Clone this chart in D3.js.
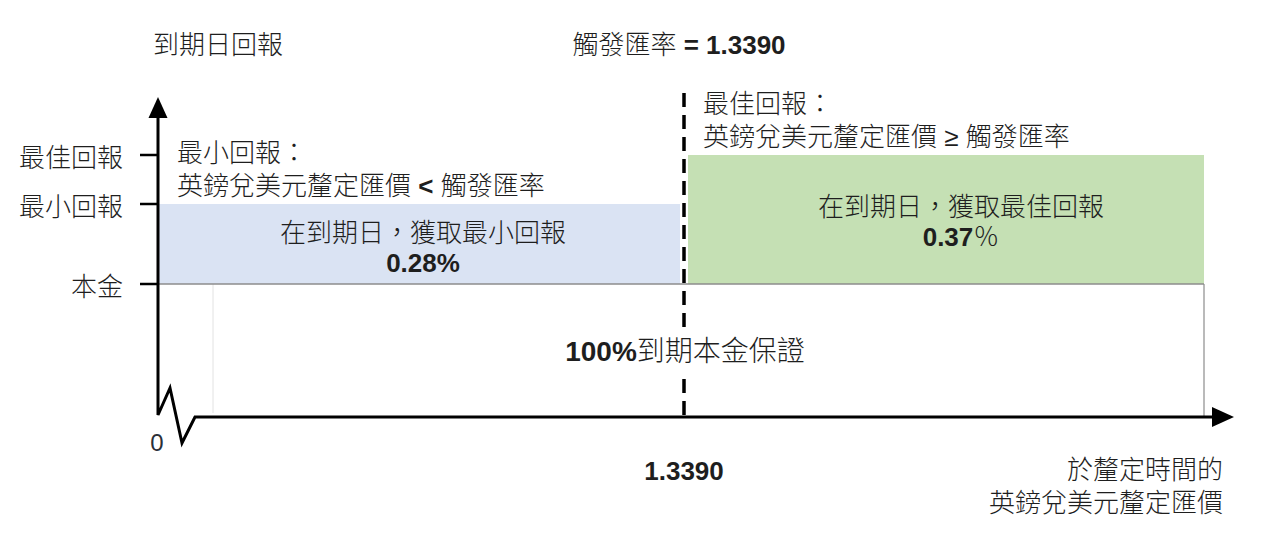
<!DOCTYPE html>
<html>
<head>
<meta charset="utf-8">
<script src="https://cdn.jsdelivr.net/npm/d3@7/dist/d3.min.js"></script>
<style>
  html, body { margin: 0; padding: 0; background: #fff; }
  svg { display: block; }
  text { font-family: "Liberation Sans", "Noto Sans CJK TC", sans-serif; fill: #1e1e1e; font-weight: 300; }
</style>
</head>
<body>
<svg id="chart" width="1280" height="557"></svg>
<script>
// ---------- data ----------
const triggerRate = 1.3390;
const rateDomain = [1.2390, 1.3390, 1.4390];           // conceptual FX range (left edge, trigger, right edge)
const levelValues = [0, 100, 100.28, 100.37];           // 0, principal, min return, best return (% of principal)
const yTickLabels = ["本金", "最小回報", "最佳回報"];
const yTickValues = [100, 100.28, 100.37];
const regions = [
  { key: "min",  from: 1.2390, to: 1.3390, value: 100.28, title: "最小回報：", cond: ["英鎊兌美元釐定匯價 ", "<", " 觸發匯率"], label: "在到期日，獲取最小回報", ret: "0.28", pct: "%" },
  { key: "best", from: 1.3390, to: 1.4390, value: 100.37, title: "最佳回報：", cond: ["英鎊兌美元釐定匯價 ", "≥", " 觸發匯率"], label: "在到期日，獲取最佳回報", ret: "0.37", pct: "％" }
];
const principalLabel = ["100%", "到期本金保證"];
const yAxisTitle = "到期日回報";
const xAxisTitle = ["於釐定時間的", "英鎊兌美元釐定匯價"];
const triggerTitle = ["觸發匯率", " = 1.3390"];
const zeroLabel = "0";

// ---------- layout ----------
const svg = d3.select("#chart");
const x = d3.scaleLinear().domain(rateDomain).range([158, 684, 1204]);
const y = d3.scaleLinear().domain(levelValues).range([417, 284, 204, 155]);
const fillColor = { min: "#dae3f3", best: "#c5e0b4" };
const gap = 4;
const FS = 26;

// principal box (white with gray top/right border)
svg.append("rect")
  .attr("x", x(rateDomain[0])).attr("y", y(100))
  .attr("width", x(rateDomain[2]) - x(rateDomain[0]))
  .attr("height", y(0) - y(100))
  .attr("fill", "#fff");
svg.append("line")
  .attr("x1", x(rateDomain[0]) + 55).attr("x2", x(rateDomain[0]) + 55)
  .attr("y1", y(100)).attr("y2", y(0) - 4)
  .attr("stroke", "#e2e2e2").attr("stroke-width", 1);

// return regions
svg.selectAll("rect.region").data(regions).join("rect")
  .attr("class", "region")
  .attr("x", d => d.key === "min" ? x(d.from) : x(d.from) + gap)
  .attr("width", d => d.key === "min" ? x(d.to) - gap - x(d.from) : x(d.to) - x(d.from) - gap)
  .attr("y", d => y(d.value))
  .attr("height", d => y(100) - y(d.value))
  .attr("fill", d => fillColor[d.key]);

// principal line & right border
svg.append("line")
  .attr("x1", x(rateDomain[0])).attr("x2", x(rateDomain[2]))
  .attr("y1", y(100)).attr("y2", y(100))
  .attr("stroke", "#8c8c8c").attr("stroke-width", 1.5);
svg.append("line")
  .attr("x1", x(rateDomain[2])).attr("x2", x(rateDomain[2]))
  .attr("y1", y(100)).attr("y2", y(0))
  .attr("stroke", "#8c8c8c").attr("stroke-width", 1.2);

// trigger dashed line
svg.append("line")
  .attr("x1", x(triggerRate)).attr("x2", x(triggerRate))
  .attr("y1", 93).attr("y2", y(0))
  .attr("stroke", "#000").attr("stroke-width", 3.5)
  .attr("stroke-dasharray", "14 8");

// y axis with break
const ax = x(rateDomain[0]);
svg.append("path")
  .attr("d", `M${ax},117 L${ax},${y(0) - 2} L${ax + 12},${y(0) - 29} L${ax + 24},${y(0) + 26} L${ax + 37},${y(0)} L1214,${y(0)}`)
  .attr("fill", "none").attr("stroke", "#000").attr("stroke-width", 3)
  .attr("stroke-linejoin", "miter");
svg.append("path").attr("d", `M${ax},97 L${ax - 9.5},118 L${ax + 9.5},118 Z`).attr("fill", "#000");
svg.append("path").attr("d", `M1234,${y(0)} L1212,${y(0) - 10} L1212,${y(0) + 10} Z`).attr("fill", "#000");

// y ticks
svg.selectAll("line.ytick").data(yTickValues).join("line")
  .attr("class", "ytick")
  .attr("x1", 140).attr("x2", ax)
  .attr("y1", d => y(d)).attr("y2", d => y(d))
  .attr("stroke", "#000").attr("stroke-width", 2.5);
svg.selectAll("text.ylab").data(yTickValues).join("text")
  .attr("class", "ylab")
  .attr("x", 123).attr("y", d => y(d) + 2.5)
  .attr("text-anchor", "end").attr("dominant-baseline", "central")
  .attr("font-size", FS)
  .text((d, i) => yTickLabels[i]);

// zero label
svg.append("text").attr("x", 157).attr("y", 451)
  .attr("text-anchor", "middle")
  .style("font-size", "24px").style("font-weight", "normal").style("fill", "#2b2f38").text(zeroLabel);

// titles
svg.append("text").attr("x", 153).attr("y", 45)
  .attr("dominant-baseline", "central").attr("font-size", FS).text(yAxisTitle);
const tt = svg.append("text").attr("x", x(triggerRate) - 5).attr("y", 45)
  .attr("text-anchor", "middle").attr("dominant-baseline", "central").attr("font-size", FS);
tt.append("tspan").text(triggerTitle[0]);
tt.append("tspan").style("font-weight", "bold").text(triggerTitle[1]);

// region annotations
regions.forEach(d => {
  const left = x(d.from) + 19;
  const top = y(d.value);
  svg.append("text").attr("x", left).attr("y", top - 51)
    .attr("dominant-baseline", "central").attr("font-size", FS).text(d.title);
  const c = svg.append("text").attr("x", left).attr("y", top - 18)
    .attr("dominant-baseline", "central").attr("font-size", FS);
  c.append("tspan").text(d.cond[0]);
  c.append("tspan").style("font-weight", d.key === "min" ? "bold" : "300").text(d.cond[1]);
  c.append("tspan").text(d.cond[2]);

  const cx = d.key === "min" ? (x(d.from) + x(d.to) - gap) / 2 + 4 : (x(d.from) + gap + x(d.to)) / 2 + 15;
  const ly = d.key === "min" ? 233 : 207;
  svg.append("text").attr("x", cx).attr("y", ly)
    .attr("text-anchor", "middle").attr("dominant-baseline", "central")
    .attr("font-size", FS).text(d.label);
  const r = svg.append("text").attr("x", cx).attr("y", ly + 39)
    .attr("text-anchor", "middle")
    .attr("font-size", FS);
  r.append("tspan").style("font-weight", "bold").text(d.ret);
  r.append("tspan").style("font-weight", d.key === "min" ? "bold" : "300").text(d.pct);
});

// principal label (with white backing that interrupts the dashed line)
const plBg = svg.append("rect").attr("fill", "#fff");
const pl = svg.append("text").attr("x", x(triggerRate) + 1).attr("y", 351)
  .attr("text-anchor", "middle").attr("dominant-baseline", "central").attr("font-size", 28);
pl.append("tspan").style("font-weight", "bold").text(principalLabel[0]);
pl.append("tspan").text(principalLabel[1]);
const bb = pl.node().getBBox();
plBg.attr("x", bb.x).attr("y", 333).attr("width", bb.width).attr("height", 38);

// x labels
svg.append("text").attr("x", x(triggerRate)).attr("y", 471)
  .attr("text-anchor", "middle").attr("dominant-baseline", "central")
  .attr("font-size", FS).style("font-weight", "bold")
  .text(d3.format(".4f")(triggerRate));
svg.selectAll("text.xtitle").data(xAxisTitle).join("text")
  .attr("class", "xtitle")
  .attr("x", 1223).attr("y", (d, i) => 470 + i * 33)
  .attr("text-anchor", "end").attr("dominant-baseline", "central")
  .attr("font-size", FS).text(d => d);
</script>
</body>
</html>
